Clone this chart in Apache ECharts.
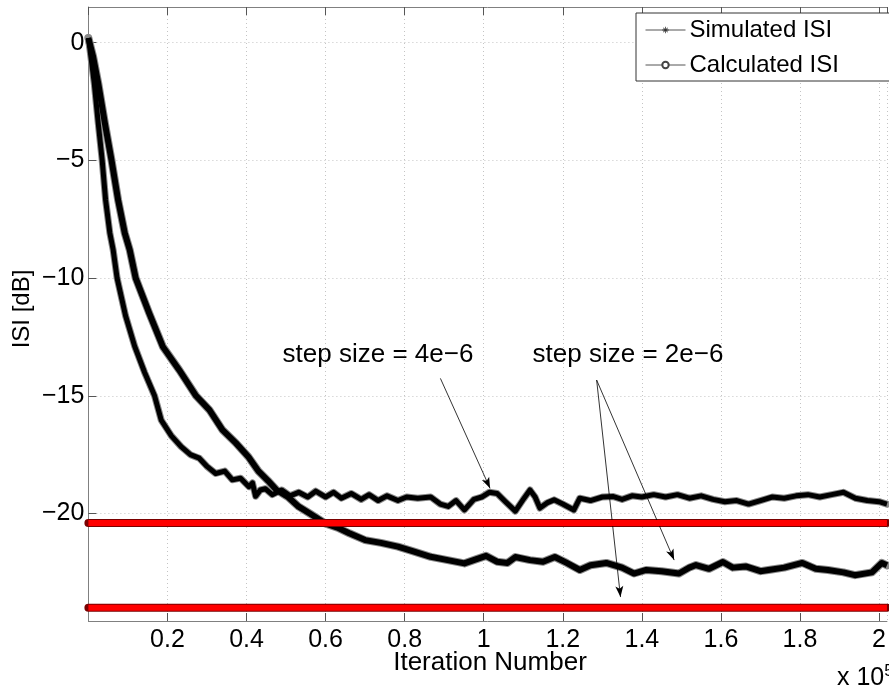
<!DOCTYPE html>
<html>
<head>
<meta charset="utf-8">
<script src="https://cdn.jsdelivr.net/npm/echarts@6/dist/echarts.min.js"></script>
<style>html,body{margin:0;padding:0;background:#fff}#c{width:889px;height:691px}</style>
</head>
<body>
<div id="c"></div>
<script>
// Simulated ISI, step size 4e-6 : [iteration, ISI dB]
const simFast = [
[0,0.2],[400,-0.3],[1480,-1.72],[2490,-3.42],[3490,-5.0],[4350,-6.68],[5430,-8.09],[6260,-8.8],
[7260,-10.0],[9400,-11.6],[11710,-12.9],[14200,-14.0],[16740,-15.0],[18420,-16.03],[21000,-16.7],
[23450,-17.16],[25800,-17.5],[28040,-17.65],[30000,-18.0],[32200,-18.3],[34500,-18.2],[36400,-18.57],
[38500,-18.5],[40600,-18.86],[41500,-18.7],[42300,-19.27],[43500,-19.0],[44800,-18.95],[46500,-19.2],
[48900,-19.0],[51000,-19.25],[53200,-19.1],[55500,-19.3],[57500,-19.05],[60000,-19.3],[62000,-19.1],
[64000,-19.35],[66500,-19.15],[69000,-19.4],[71000,-19.2],[73300,-19.45],[75500,-19.25],[78300,-19.45],
[80500,-19.3],[83300,-19.35],[86600,-19.3],[89000,-19.6],[91000,-19.7],[93000,-19.45],[95100,-19.85],
[97500,-19.4],[99500,-19.3],[101400,-19.1],[103400,-19.15],[105500,-19.5],[108000,-19.9],[110000,-19.4],
[111700,-19.0],[113000,-19.3],[114200,-19.77],[116000,-19.55],[117800,-19.42],[120000,-19.6],[122800,-19.85],
[124300,-19.35],[127000,-19.45],[130000,-19.3],[132800,-19.28],[135000,-19.4],[137500,-19.25],[140000,-19.3],
[143000,-19.2],[146000,-19.3],[149000,-19.2],[152000,-19.35],[155000,-19.25],[158000,-19.4],[161000,-19.5],
[164000,-19.45],[167000,-19.6],[170000,-19.45],[173000,-19.3],[176000,-19.35],[179000,-19.25],[182000,-19.2],
[185000,-19.3],[188000,-19.2],[191000,-19.1],[194000,-19.35],[197000,-19.45],[200000,-19.5],[202000,-19.6]
];
// Simulated ISI, step size 2e-6
const simSlow = [
[0,0.2],[1200,-0.6],[2490,-1.72],[4170,-3.42],[5860,-5.0],[7510,-6.68],[9200,-8.09],[10450,-8.8],
[11960,-10.0],[15400,-11.5],[18820,-12.91],[22960,-13.9],[27220,-15.0],[30600,-15.6],[33900,-16.45],
[37270,-17.0],[40500,-17.6],[43000,-18.2],[45400,-18.6],[47600,-19.0],[50500,-19.3],[53200,-19.71],
[56000,-20.0],[59900,-20.42],[63000,-20.6],[66000,-20.84],[70000,-21.13],[74000,-21.25],[78300,-21.41],
[82000,-21.6],[86600,-21.84],[90900,-21.98],[95100,-22.12],[98000,-21.95],[100600,-21.8],[103400,-22.05],
[106000,-22.1],[108000,-21.85],[111700,-21.98],[115000,-22.05],[118000,-21.85],[121000,-22.1],[124300,-22.4],
[127000,-22.2],[131000,-22.1],[135000,-22.3],[138000,-22.55],[141100,-22.4],[145000,-22.45],[149400,-22.55],
[152000,-22.3],[153700,-22.19],[157000,-22.35],[160500,-22.06],[163000,-22.3],[166300,-22.25],[170000,-22.45],
[172000,-22.4],[176000,-22.3],[180600,-22.1],[184000,-22.35],[187100,-22.4],[191000,-22.5],[193900,-22.62],
[198200,-22.5],[200700,-22.1],[202000,-22.2]
];
// Calculated ISI levels (dB)
const calcFast = [[0,-20.4],[202000,-20.4]];
const calcSlow = [[0,-24.0],[202000,-24.0]];
// Axis
const xMin = 0, xMax = 202000, xStep = 20000;
const yMin = -24.567, yMax = 1.517;
const yTickValues = [-20,-15,-10,-5,0];
// Annotations
const annotations = ['step size = 4e\u22126', 'step size = 2e\u22126'];
const arrows = [
  [[89040,-14.26],[101600,-18.93]],
  [[128560,-14.33],[134600,-23.55]],
  [[128560,-14.33],[148170,-21.98]]
];

const FONT = '"Liberation Sans", Arial, Helvetica, sans-serif';
const chart = echarts.init(document.getElementById('c'), null, {renderer:'canvas'});
const asterisk = 'path://M-0.6,-5L0.6,-5L0.6,5L-0.6,5Z M-5,-0.6L5,-0.6L5,0.6L-5,0.6Z M-3.9,-3.1L-3.1,-3.9L3.9,3.1L3.1,3.9Z M3.1,-3.9L3.9,-3.1L-3.1,3.9L-3.9,3.1Z';

function fmtY(v){
  if (yTickValues.indexOf(Math.round(v)) < 0 || Math.abs(v-Math.round(v))>1e-6) return '';
  return String(Math.round(v)).replace('-','\u2212');
}

const option = {
  animation:false,
  backgroundColor:'#fff',
  grid:{left:88.4, top:7, width:804, height:614, show:false},
  xAxis:[{
    type:'value', min:xMin, max:xMax, interval:xStep, position:'bottom',
    axisLine:{show:true, onZero:false, lineStyle:{color:'#808080', width:1}},
    axisTick:{show:true, inside:true, length:8, lineStyle:{color:'#555'}},
    axisLabel:{fontFamily:FONT, fontSize:25, color:'#000', margin:7, showMinLabel:false, showMaxLabel:false,
      formatter:v=>String(+(v/1e5).toFixed(1))},
    splitLine:{show:true, lineStyle:{color:'#c4c4c4', type:[1,3], width:1}}
  },{
    type:'value', min:xMin, max:xMax, interval:xStep, position:'top',
    axisLine:{show:true, onZero:false, lineStyle:{color:'#808080', width:1}},
    axisTick:{show:true, inside:true, length:8, lineStyle:{color:'#555'}},
    axisLabel:{show:false}, splitLine:{show:false}
  }],
  yAxis:{
    type:'value', min:yMin, max:yMax, splitNumber:5,
    axisLine:{show:true, onZero:false, lineStyle:{color:'#808080', width:1}},
    axisTick:{show:true, inside:true, length:8, lineStyle:{color:'#555'}},
    axisLabel:{fontFamily:FONT, fontSize:25, color:'#000', margin:4, showMinLabel:false, showMaxLabel:false, formatter:fmtY},
    splitLine:{show:true, lineStyle:{color:'#c4c4c4', type:[1,3], width:1}}
  },
  legend:{
    left:636, top:13, orient:'vertical', itemWidth:40, itemHeight:8, itemGap:11,
    padding:[5,60,4,9], borderColor:'#333', borderWidth:1, backgroundColor:'#fff',
    textStyle:{fontFamily:FONT, fontSize:24, color:'#000', padding:[0,0,0,-1]},
    data:[
      {name:'Simulated ISI', itemStyle:{color:'#333'}, lineStyle:{color:'#555', width:1, type:'solid'}},
      {name:'Calculated ISI', itemStyle:{color:'#444', borderColor:'#444', borderWidth:1}, lineStyle:{color:'#555', width:1, type:'solid'}}
    ],
    selectedMode:false
  },
  series:[
    {name:'simFastEdge', type:'line', data:simFast, showSymbol:false, symbol:'none', silent:true,
      lineStyle:{color:'#8a8a8a', width:7, cap:'round', join:'round'}, z:2},
    {name:'simSlowEdge', type:'line', data:simSlow, showSymbol:false, symbol:'none', silent:true,
      lineStyle:{color:'#8a8a8a', width:8, cap:'round', join:'round'}, z:2},
    {name:'Simulated ISI', type:'line', data:simFast, showSymbol:false, symbol:asterisk, symbolSize:7,
      lineStyle:{color:'#000', width:5, join:'round'}, itemStyle:{color:'#000'}, z:3},
    {name:'Simulated ISI', type:'line', data:simSlow, showSymbol:false, symbol:asterisk, symbolSize:7,
      lineStyle:{color:'#000', width:6, join:'round'}, itemStyle:{color:'#000'}, z:3},
    {name:'calcEdge1', type:'line', data:calcFast, showSymbol:false, symbol:'none', silent:true,
      lineStyle:{color:'#7a0000', width:8, cap:'round'}, z:4},
    {name:'calcEdge2', type:'line', data:calcSlow, showSymbol:false, symbol:'none', silent:true,
      lineStyle:{color:'#7a0000', width:8, cap:'round'}, z:4},
    {name:'Calculated ISI', type:'line', data:calcFast, showSymbol:false, symbol:'emptyCircle',
      lineStyle:{color:'#ff0000', width:6}, itemStyle:{color:'#f00'}, z:5},
    {name:'Calculated ISI', type:'line', data:calcSlow, showSymbol:false, symbol:'emptyCircle',
      lineStyle:{color:'#ff0000', width:6}, itemStyle:{color:'#f00'}, z:5},
    {name:'arrows', type:'line', data:[], silent:true, z:6,
      markLine:{silent:true, symbol:['none','arrow'], symbolSize:[6,11], animation:false,
        label:{show:false}, lineStyle:{color:'#000', width:0.8, type:'solid'},
        data:arrows.map(a=>[{coord:a[0]},{coord:a[1]}])}}
  ],
  graphic:[
    {type:'text', x:378, y:355, style:{text:annotations[0], fontFamily:FONT, fontSize:26, fill:'#000', align:'center', verticalAlign:'middle'}, z:10},
    {type:'text', x:628, y:355, style:{text:annotations[1], fontFamily:FONT, fontSize:26, fill:'#000', align:'center', verticalAlign:'middle'}, z:10},
    {type:'text', x:22, y:309, rotation:Math.PI/2, style:{text:'ISI [dB]', fontFamily:FONT, fontSize:24, fill:'#000', align:'center', verticalAlign:'middle'}, z:10},
    {type:'text', x:490, y:663, style:{text:'Iteration Number', fontFamily:FONT, fontSize:26, fill:'#000', align:'center', verticalAlign:'middle'}, z:10},
    {type:'text', x:837, y:678, style:{text:'{a|x 10}{b|5}', verticalAlign:'middle', rich:{a:{fontFamily:FONT, fontSize:25, fill:'#000'}, b:{fontFamily:FONT, fontSize:17, fill:'#000', verticalAlign:'top', padding:[0,0,14,0]}}}, z:10}
  ]
};
chart.setOption(option);
</script>
</body>
</html>
